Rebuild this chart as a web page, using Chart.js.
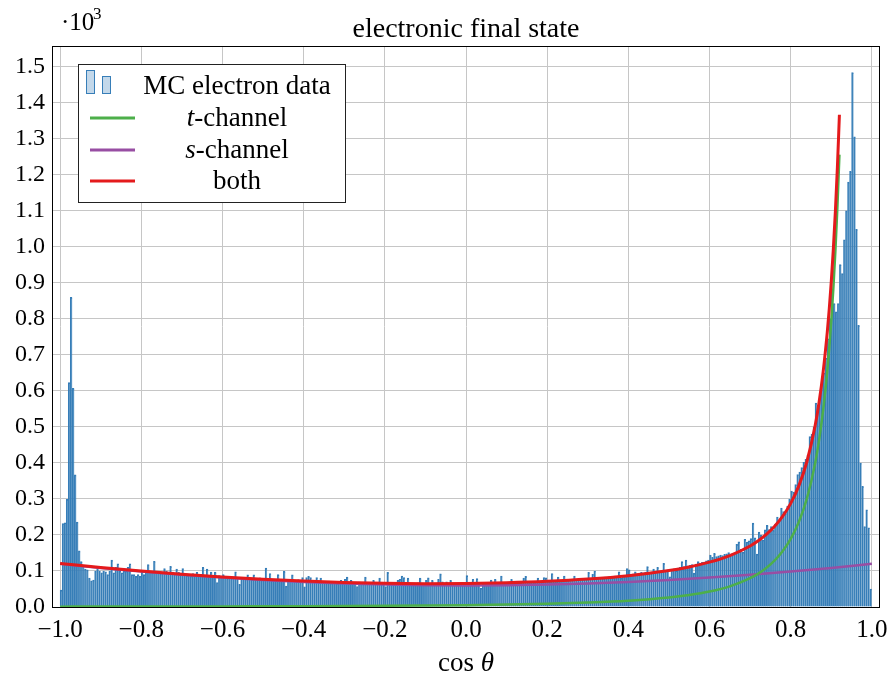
<!DOCTYPE html>
<html>
<head>
<meta charset="utf-8">
<script src="https://cdn.jsdelivr.net/npm/chart.js@4.4.1/dist/chart.umd.min.js"></script>
<style>
  html, body { margin: 0; padding: 0; background: #fff; }
  #wrap { width: 889px; height: 684px; }
</style>
</head>
<body>
<div id="wrap"><canvas id="histChart" width="889" height="684"></canvas></div>
<script>
// histogram: 400 bins of width 0.005 on [-1, 1], counts in units of 10^3
const binStart = -1;
const binWidth = 0.005;
const mcCounts = [
  0.047, 0.232, 0.234, 0.299, 0.623, 0.860, 0.607, 0.367, 0.236, 0.156, 0.126, 0.115, 0.105, 0.103, 0.080, 0.073, 0.075, 0.100, 0.105, 0.100,
  0.095, 0.100, 0.098, 0.090, 0.100, 0.130, 0.095, 0.110, 0.120, 0.100, 0.095, 0.100, 0.100, 0.110, 0.120, 0.090, 0.090, 0.085, 0.090, 0.085,
  0.100, 0.090, 0.100, 0.118, 0.100, 0.098, 0.127, 0.097, 0.095, 0.092, 0.096, 0.107, 0.100, 0.094, 0.113, 0.097, 0.093, 0.105, 0.096, 0.090,
  0.107, 0.092, 0.088, 0.090, 0.086, 0.093, 0.089, 0.096, 0.087, 0.091, 0.110, 0.088, 0.105, 0.086, 0.097, 0.084, 0.097, 0.068, 0.087, 0.082,
  0.090, 0.082, 0.080, 0.085, 0.079, 0.083, 0.098, 0.081, 0.063, 0.080, 0.082, 0.078, 0.089, 0.080, 0.077, 0.089, 0.079, 0.076, 0.081, 0.078,
  0.076, 0.108, 0.078, 0.093, 0.075, 0.077, 0.074, 0.090, 0.076, 0.073, 0.099, 0.058, 0.075, 0.073, 0.089, 0.074, 0.071, 0.076, 0.072, 0.082,
  0.056, 0.082, 0.085, 0.082, 0.071, 0.070, 0.082, 0.069, 0.080, 0.068, 0.071, 0.069, 0.072, 0.067, 0.070, 0.068, 0.066, 0.070, 0.074, 0.068,
  0.077, 0.083, 0.067, 0.074, 0.066, 0.068, 0.057, 0.069, 0.066, 0.067, 0.083, 0.066, 0.068, 0.065, 0.074, 0.067, 0.066, 0.080, 0.064, 0.066,
  0.057, 0.096, 0.066, 0.064, 0.067, 0.065, 0.074, 0.077, 0.086, 0.082, 0.066, 0.080, 0.064, 0.066, 0.063, 0.065, 0.067, 0.080, 0.064, 0.066,
  0.074, 0.081, 0.065, 0.074, 0.064, 0.066, 0.077, 0.092, 0.070, 0.065, 0.070, 0.064, 0.074, 0.066, 0.063, 0.065, 0.064, 0.066, 0.065, 0.064,
  0.087, 0.066, 0.065, 0.077, 0.064, 0.079, 0.066, 0.052, 0.067, 0.065, 0.066, 0.064, 0.075, 0.066, 0.077, 0.065, 0.067, 0.086, 0.066, 0.068,
  0.067, 0.068, 0.077, 0.066, 0.069, 0.068, 0.067, 0.070, 0.080, 0.085, 0.069, 0.068, 0.070, 0.069, 0.071, 0.080, 0.070, 0.069, 0.082, 0.081,
  0.072, 0.071, 0.093, 0.073, 0.072, 0.083, 0.074, 0.073, 0.086, 0.075, 0.074, 0.076, 0.075, 0.086, 0.076, 0.075, 0.077, 0.076, 0.078, 0.077,
  0.096, 0.079, 0.091, 0.100, 0.080, 0.081, 0.082, 0.080, 0.083, 0.082, 0.084, 0.085, 0.083, 0.086, 0.085, 0.098, 0.080, 0.087, 0.088, 0.107,
  0.103, 0.090, 0.092, 0.098, 0.093, 0.094, 0.096, 0.095, 0.097, 0.112, 0.097, 0.098, 0.105, 0.099, 0.110, 0.100, 0.101, 0.121, 0.102, 0.103,
  0.084, 0.104, 0.106, 0.101, 0.108, 0.110, 0.126, 0.112, 0.130, 0.114, 0.116, 0.118, 0.094, 0.119, 0.126, 0.121, 0.124, 0.125, 0.128, 0.130,
  0.144, 0.138, 0.149, 0.140, 0.142, 0.144, 0.143, 0.146, 0.148, 0.151, 0.147, 0.149, 0.150, 0.174, 0.181, 0.160, 0.152, 0.188, 0.180, 0.184,
  0.190, 0.233, 0.192, 0.147, 0.208, 0.200, 0.186, 0.214, 0.227, 0.215, 0.223, 0.213, 0.230, 0.250, 0.240, 0.275, 0.265, 0.260, 0.280, 0.300,
  0.322, 0.319, 0.340, 0.368, 0.375, 0.387, 0.402, 0.410, 0.422, 0.473, 0.480, 0.500, 0.566, 0.560, 0.578, 0.623, 0.650, 0.691, 0.745, 0.800,
  0.876, 0.843, 0.820, 0.843, 0.951, 0.926, 1.020, 1.100, 1.180, 1.210, 1.484, 1.306, 1.049, 0.782, 0.400, 0.335, 0.223, 0.270, 0.220, 0.050
];

// curves
const tX = [-1.0, -0.9, -0.8, -0.7, -0.6, -0.5, -0.4, -0.3, -0.2, -0.1, 0.0, 0.1, 0.2, 0.3, 0.4, 0.5, 0.55, 0.6, 0.65, 0.7,
  0.72, 0.74, 0.76, 0.78, 0.8, 0.82, 0.84, 0.86, 0.87, 0.88, 0.89, 0.895, 0.9, 0.905, 0.91, 0.915, 0.92];
const tChannel = [0.0010, 0.0012, 0.0013, 0.0015, 0.0017, 0.0020, 0.0023, 0.0028, 0.0034, 0.0042, 0.0052, 0.0067, 0.0089, 0.0122, 0.0173, 0.0262, 0.0331, 0.0429, 0.0574, 0.0801,
  0.0928, 0.1087, 0.1289, 0.1549, 0.1893, 0.2361, 0.3018, 0.3981, 0.4640, 0.5473, 0.6546, 0.7200, 0.7960, 0.8840, 0.9876, 1.1100, 1.2562];
const bothChannels = [0.1210, 0.1098, 0.0997, 0.0909, 0.0833, 0.0770, 0.0719, 0.0682, 0.0658, 0.0648, 0.0652, 0.0673, 0.0713, 0.0776, 0.0869, 0.1012, 0.1113, 0.1245, 0.1428, 0.1695,
  0.1839, 0.2016, 0.2236, 0.2514, 0.2877, 0.3364, 0.4041, 0.5025, 0.5694, 0.6538, 0.7621, 0.8281, 0.9046, 0.9931, 1.0973, 1.2202, 1.3670];
const sX = [-1.0, -0.9, -0.8, -0.7, -0.6, -0.5, -0.4, -0.3, -0.2, -0.1, 0.0, 0.1, 0.2, 0.3, 0.4, 0.5, 0.6, 0.7, 0.8, 0.9, 1.0];
const sChannel = [0.120, 0.1086, 0.0984, 0.0894, 0.0816, 0.075, 0.0696, 0.0654, 0.0624, 0.0606, 0.060, 0.0606, 0.0624, 0.0654, 0.0696, 0.075, 0.0816, 0.0894, 0.0984, 0.1086, 0.120];

const xTicks = [-1.0, -0.8, -0.6, -0.4, -0.2, 0.0, 0.2, 0.4, 0.6, 0.8, 1.0];

const BLUE = "#377eb8";
const GREEN = "#4daf4a";
const PURPLE = "#984ea3";
const RED = "#e41a1c";
const SERIF = "'Liberation Serif', 'DejaVu Serif', serif";

const histData = mcCounts.map((v, i) => ({ x: binStart + binWidth * (i + 0.5), y: v }));
const toPts = (xs, ys) => xs.map((x, i) => ({ x: x, y: ys[i] }));

// title, exponent, axis label, legend and frame
const decorations = {
  id: "decorations",
  afterDraw(chart) {
    const c = chart.ctx;
    const a = chart.chartArea;
    c.save();
    c.fillStyle = "#000";
    c.textBaseline = "alphabetic";

    c.font = "28px " + SERIF;
    c.textAlign = "center";
    c.fillText("electronic final state", (a.left + a.right) / 2, 37);

    c.textAlign = "left";
    c.font = "25px " + SERIF;
    c.fillText("\u00b710", 61, 30);
    c.font = "17px " + SERIF;
    c.fillText("3", 93, 19);

    // x-axis label
    c.font = "27px " + SERIF;
    const w1 = c.measureText("cos ").width;
    c.font = "italic 27px " + SERIF;
    const w2 = c.measureText("\u03b8").width;
    const lx = (a.left + a.right) / 2 - (w1 + w2) / 2;
    c.font = "27px " + SERIF;
    c.fillText("cos ", lx, 671);
    c.font = "italic 27px " + SERIF;
    c.fillText("\u03b8", lx + w1, 671);

    // frame
    c.strokeStyle = "#000";
    c.lineWidth = 1;
    c.strokeRect(a.left + 0.5, a.top + 0.5, a.right - a.left - 1, a.bottom - a.top);

    // legend
    c.fillStyle = "#fff";
    c.fillRect(78, 64, 267, 138);
    c.strokeStyle = "#222";
    c.strokeRect(78.5, 64.5, 267, 138);

    c.fillStyle = "rgba(55,126,184,0.3)";
    c.strokeStyle = BLUE;
    c.fillRect(86, 70, 8, 23);
    c.strokeRect(86.5, 70.5, 8, 23);
    c.fillRect(102, 76, 8, 17);
    c.strokeRect(102.5, 76.5, 8, 17);

    const lines = [[GREEN, 118], [PURPLE, 150], [RED, 181]];
    lines.forEach(([col, y]) => {
      c.strokeStyle = col;
      c.lineWidth = 3;
      c.beginPath();
      c.moveTo(90, y);
      c.lineTo(135, y);
      c.stroke();
    });

    c.fillStyle = "#000";
    c.textAlign = "left";
    const cx = 237;
    const entry = (italic, rest, y) => {
      c.font = "italic 27px " + SERIF;
      const wi = italic ? c.measureText(italic).width : 0;
      c.font = "27px " + SERIF;
      const wr = c.measureText(rest).width;
      const x0 = cx - (wi + wr) / 2;
      if (italic) {
        c.font = "italic 27px " + SERIF;
        c.fillText(italic, x0, y);
      }
      c.font = "27px " + SERIF;
      c.fillText(rest, x0 + wi, y);
    };
    entry("", "MC electron data", 94);
    entry("t", "-channel", 126);
    entry("s", "-channel", 158);
    entry("", "both", 189);
    c.restore();
  }
};

new Chart(document.getElementById("histChart"), {
  type: "bar",
  data: {
    datasets: [
      {
        type: "line",
        label: "both",
        data: toPts(tX, bothChannels),
        borderColor: RED,
        borderWidth: 3,
        pointRadius: 0,
        cubicInterpolationMode: "monotone",
        order: 0,
      },
      {
        type: "line",
        label: "t-channel",
        data: toPts(tX, tChannel),
        borderColor: GREEN,
        borderWidth: 2.5,
        pointRadius: 0,
        cubicInterpolationMode: "monotone",
        order: 1,
      },
      {
        type: "line",
        label: "s-channel",
        data: toPts(sX, sChannel),
        borderColor: PURPLE,
        borderWidth: 2.5,
        pointRadius: 0,
        cubicInterpolationMode: "monotone",
        order: 2,
      },
      {
        label: "MC electron data",
        data: histData,
        backgroundColor: "rgba(55,126,184,0.6)",
        borderColor: BLUE,
        borderWidth: { top: 1, left: 1, right: 0, bottom: 0 },
        barPercentage: 1,
        categoryPercentage: 1,
        grouped: false,
        order: 3,
      },
    ],
  },
  options: {
    responsive: false,
    animation: false,
    layout: { padding: { top: 46, right: 9, left: 0, bottom: 0 } },
    plugins: {
      legend: { display: false },
      tooltip: { enabled: false },
      title: { display: false },
    },
    scales: {
      x: {
        type: "linear",
        min: -1.02,
        max: 1.02,
        offset: false,
        afterFit: (s) => { s.height = 77; s.paddingLeft = 0; s.paddingRight = 0; },
        afterBuildTicks: (s) => { s.ticks = xTicks.map((v) => ({ value: v })); },
        grid: { color: "#c6c6c6", lineWidth: 1, drawTicks: false, offset: false },
        border: { display: false },
        ticks: {
          autoSkip: false,
          maxRotation: 0,
          padding: 8,
          color: "#000",
          font: { family: SERIF, size: 25 },
          callback: (v) => (v < -1e-9 ? "\u2212" : "") + Math.abs(v).toFixed(1),
        },
      },
      y: {
        min: 0,
        max: 1.558,
        afterFit: (s) => { s.width = 52; s.paddingTop = 0; s.paddingBottom = 0; },
        grid: { color: "#c6c6c6", lineWidth: 1, drawTicks: false },
        border: { display: false },
        ticks: {
          stepSize: 0.1,
          includeBounds: false,
          autoSkip: false,
          padding: 7,
          color: "#000",
          font: { family: SERIF, size: 24 },
          callback: (v) => v.toFixed(1),
        },
      },
    },
  },
  plugins: [decorations],
});
</script>
</body>
</html>
